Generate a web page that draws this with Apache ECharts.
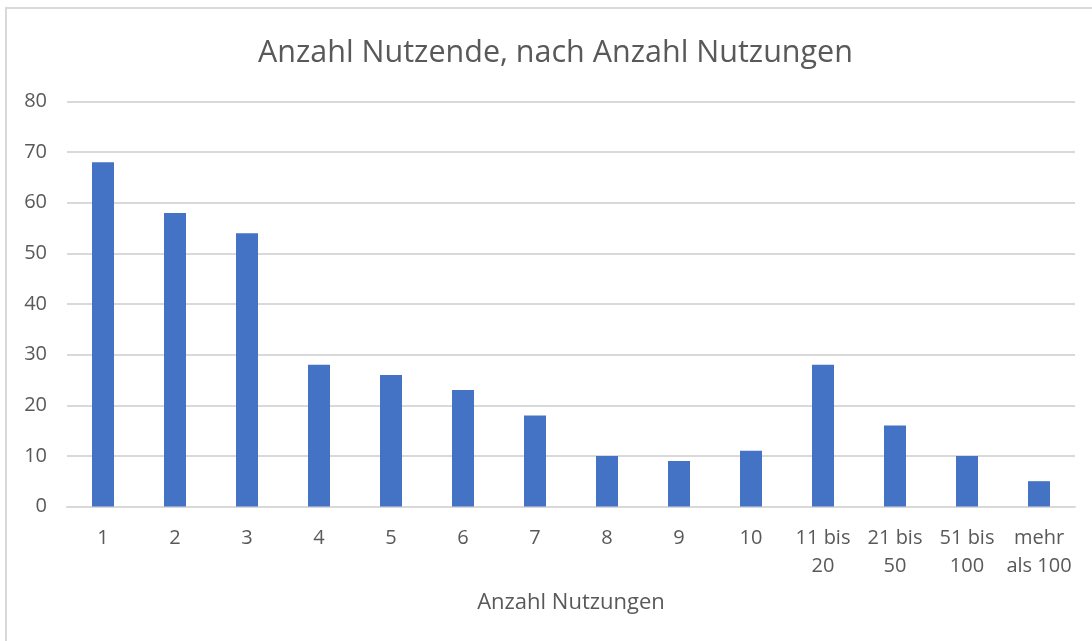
<!DOCTYPE html>
<html><head><meta charset="utf-8">
<script src="https://cdn.jsdelivr.net/npm/echarts@6/dist/echarts.min.js"></script>
<style>
html,body{margin:0;padding:0;background:#fff;}
#wrap{position:absolute;left:5px;top:7px;width:1100px;height:650px;border:2px solid #d9d9d9;box-sizing:border-box;}
#chart{position:absolute;left:0;top:0;width:1092px;height:641px;}
</style></head>
<body>
<div id="wrap"></div>
<div id="chart"></div>
<script>
const categories = ["1","2","3","4","5","6","7","8","9","10","11 bis\n20","21 bis\n50","51 bis\n100","mehr\nals 100"];
const values = [68, 58, 54, 28, 26, 23, 18, 10, 9, 11, 28, 16, 10, 5];
const yTicks = [0, 80, 10];
const titleText = "Anzahl Nutzende, nach Anzahl Nutzungen";
const xAxisName = "Anzahl Nutzungen";

const chart = echarts.init(document.getElementById('chart'), null, {renderer:'canvas'});
const font = "'Open Sans', 'Noto Sans', sans-serif";
chart.setOption({
  animation: false,
  title: {
    text: titleText, left: 253, top: 33,
    textStyle: {fontFamily: font, fontSize: 30.5, fontWeight: 'normal', color: '#595959'}
  },
  grid: {left: 67, right: 17, top: 101.5, bottom: 134.5, containLabel: false},
  xAxis: {
    type: 'category', data: categories,
    name: xAxisName, nameLocation: 'middle', nameGap: 85,
    nameTextStyle: {fontFamily: font, fontSize: 22, color: '#595959'},
    axisLine: {show: true, lineStyle: {color: '#d9d9d9', width: 2}},
    axisTick: {show: false},
    axisLabel: {fontFamily: font, fontSize: 20, color: '#595959', margin: 18, lineHeight: 28, interval: 0}
  },
  yAxis: {
    type: 'value', min: yTicks[0], max: yTicks[1], interval: yTicks[2],
    axisLine: {show: false}, axisTick: {show: false},
    splitLine: {lineStyle: {color: '#d9d9d9', width: 2}},
    axisLabel: {fontFamily: font, fontSize: 20, color: '#595959', margin: 20}
  },
  series: [{
    type: 'bar', data: values, barWidth: 22,
    itemStyle: {color: '#4472c4'}
  }]
});
</script>
</body></html>
